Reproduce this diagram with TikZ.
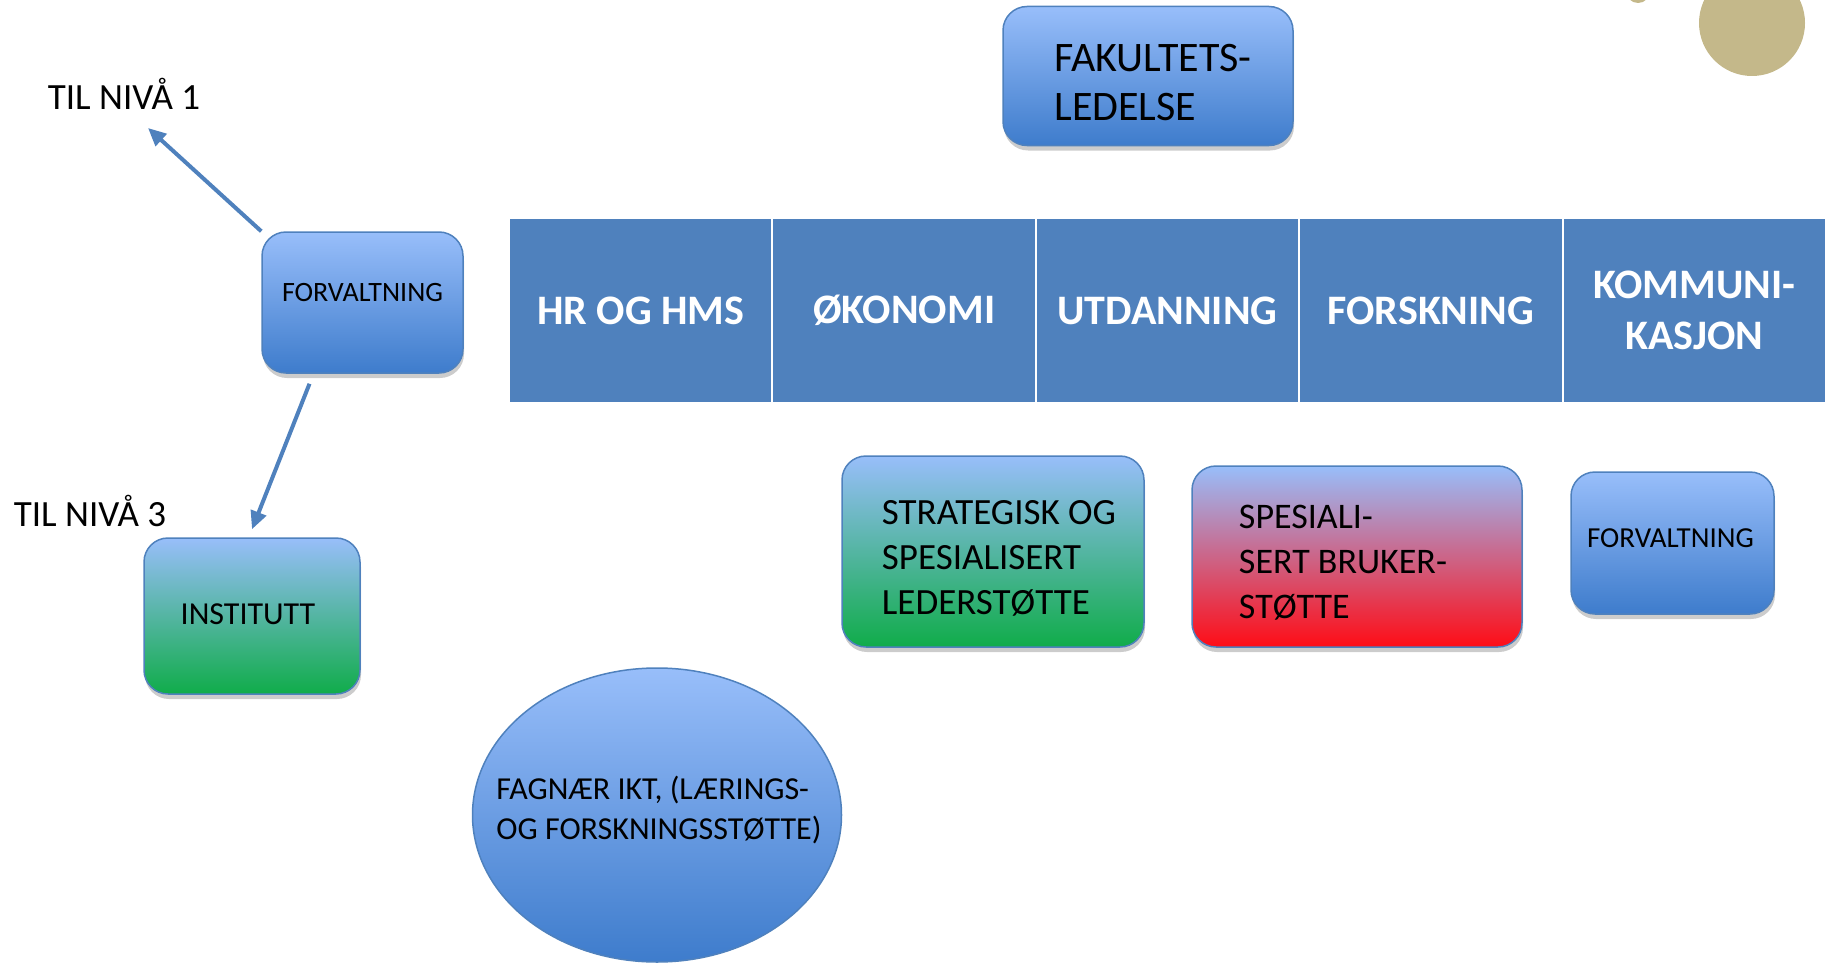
\documentclass[tikz,border=0pt]{standalone}
\usepackage{fontspec}
\setmainfont{Carlito}
\usepackage{xcolor}
\usepackage{tikz}
\usetikzlibrary{positioning}
\usetikzlibrary{shapes.geometric}
\usetikzlibrary{shadows}
\usetikzlibrary{arrows.meta}

\definecolor{lightblue}{RGB}{152,190,250}
\definecolor{deepblue}{RGB}{62,124,204}
\definecolor{edgeblue}{RGB}{79,129,189}
\definecolor{greenbot}{RGB}{16,172,74}
\definecolor{redbot}{RGB}{255,12,22}
\definecolor{sand}{RGB}{196,184,138}

\tikzset{
  box/.style={draw=edgeblue, line width=1.5pt, rounded corners=24pt, inner sep=0pt,
    drop shadow={shadow xshift=1pt, shadow yshift=-5pt, opacity=0.2, fill=black}},
  bluebox/.style={box, top color=lightblue, bottom color=deepblue},
  greenbox/.style={box, top color=lightblue, bottom color=greenbot},
  redbox/.style={box, top color=lightblue, bottom color=redbot},
  boxtext/.style 2 args={inner sep=0pt, align=left, font=\fontsize{#1}{#2}\selectfont},
  dept/.style={fill=edgeblue, draw=white, line width=2pt, outer sep=0pt, inner sep=0pt,
    minimum width=263.4pt, minimum height=185pt, text=white,
    font=\bfseries\fontsize{42}{51}\selectfont},
  link/.style={draw=edgeblue, line width=4pt, -{Triangle[length=18pt,width=16pt]}}
}

\begin{document}
\begin{tikzpicture}[x=1pt, y=-1pt, every text node part/.style={align=left}]
\useasboundingbox (0,0) rectangle (1826,966);

% corner decoration
\fill[sand] (1752,23) circle (53pt);
\fill[sand] (1638,-9) circle (12pt);

% top
\node (fak) [bluebox, minimum width=290pt, minimum height=139pt,
  label={[boxtext={42}{49}, yshift=-7pt, xshift=5pt]center:FAKULTETS-\\LEDELSE}] at (1148,76) {};

% departments
\node (hr) [dept] at (640.7,310.5) {HR OG HMS};
\node (oko) [dept, right=0pt of hr] {ØKONOMI};
\node (utd) [dept, right=0pt of oko] {UTDANNING};
\node (fors) [dept, right=0pt of utd] {FORSKNING};
\node (komm) [dept, right=0pt of fors, every text node part/.style={align=center}] {KOMMUNI-\\KASJON};

% left side
\node (forv) [bluebox, minimum width=201pt, minimum height=141pt,
  label={[boxtext={28}{34}, yshift=10pt]center:FORVALTNING}] at (362.5,302.5) {};
\node (niva1) [font=\fontsize{37}{44}\selectfont] at (124,94) {TIL NIVÅ 1};
\node (niva3) [font=\fontsize{37}{44}\selectfont] at (90,511) {TIL NIVÅ 3};
\node (inst) [greenbox, minimum width=216pt, minimum height=156pt,
  label={[boxtext={32}{38}, yshift=2pt, xshift=-4pt]center:INSTITUTT}] at (252,616) {};
\coordinate (tip1) at (148,128);

\draw [link] (forv.north west) -- (tip1);
\draw [link] (forv.south) ++(-53,10) -- ([yshift=8pt]inst.north);

% lower row
\node (strat) [greenbox, minimum width=302pt, minimum height=191pt,
  label={[boxtext={37}{45}, yshift=-7pt, xshift=6pt]center:STRATEGISK OG\\SPESIALISERT\\LEDERSTØTTE}] at (993,551.5) {};
\node (spes) [redbox, minimum width=330pt, minimum height=181pt,
  label={[boxtext={36}{45}, yshift=-6pt, xshift=-14pt]center:SPESIALI-\\SERT BRUKER-\\STØTTE}] at (1357,556.5) {};
\node (forv2) [bluebox, minimum width=203pt, minimum height=142pt,
  label={[boxtext={29}{35}, yshift=5pt, xshift=-2pt]center:FORVALTNING}] at (1672.5,543) {};

\node (ikt) [ellipse, draw=edgeblue, line width=1.5pt, top color=lightblue, bottom color=deepblue, inner sep=0pt,
  minimum width=369pt, minimum height=294pt,
  label={[boxtext={32}{40}, yshift=5pt, xshift=2pt]center:FAGNÆR IKT, (LÆRINGS-\\OG FORSKNINGSSTØTTE)}] at (657,815) {};

\end{tikzpicture}
\end{document}
